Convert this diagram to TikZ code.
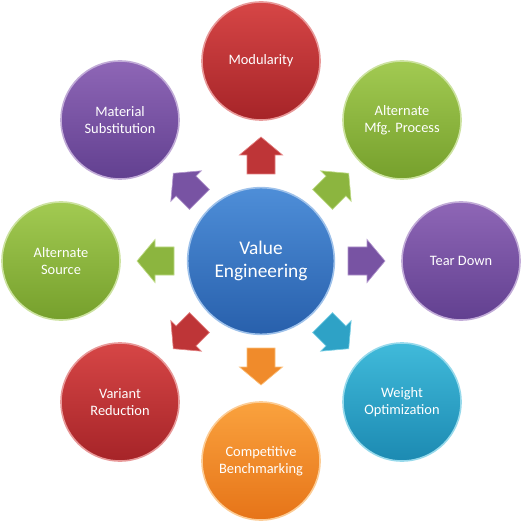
\documentclass[tikz,border=0pt]{standalone}
\usepackage{fontspec}
\setmainfont{Carlito}

\definecolor{veredlight}{RGB}{214,70,70}
\definecolor{vereddark}{RGB}{166,36,40}
\definecolor{vegreenlight}{RGB}{162,202,82}
\definecolor{vegreendark}{RGB}{118,160,44}
\definecolor{vepurplelight}{RGB}{142,102,182}
\definecolor{vepurpledark}{RGB}{98,64,144}
\definecolor{vetealight}{RGB}{64,186,218}
\definecolor{veteadark}{RGB}{28,138,178}
\definecolor{veorangelight}{RGB}{250,162,62}
\definecolor{veorangedark}{RGB}{230,116,24}
\definecolor{vebluelight}{RGB}{78,142,216}
\definecolor{vebluedark}{RGB}{40,96,172}

\tikzset{every picture/.style={line width=0.75pt}}
\tikzset{
  bubble/.style={circle, inner sep=0pt, minimum size=88.5pt, align=center,
    text=white, font=\fontsize{10.8}{12.5}\selectfont,
    top color=#1light, bottom color=#1dark, draw=#1light!55!white, line width=1.2pt},
  hub/.style={bubble=#1, minimum size=110pt, font=\fontsize{14.5}{17}\selectfont},
  arrowbox/.style={fill=#1light!50!#1dark, draw=#1light!70!white, line width=0.5pt, line join=miter}
}

\begin{document}
\begin{tikzpicture}[x=0.75pt,y=0.75pt,yscale=-1,xscale=1]
\useasboundingbox (0,0) rectangle (522,523);

%Shape: Circle [centre]
\node [hub=veblue] (ve) at (261,261) {Value\\Engineering};

%Shape: Circle [outer ring]
\node [bubble=vered] (mod) at (261,61) {Modularity};
\node [bubble=vegreen] (mfg) at (402,120) {Alternate\\Mfg. Process};
\node [bubble=vepurple] (tear) at (461,261) {Tear Down};
\node [bubble=vetea] (weight) at (402,402) {Weight\\Optimization};
\node [bubble=veorange] (bench) at (261,461) {Competitive\\Benchmarking};
\node [bubble=vered] (variant) at (120,402) {Variant\\Reduction};
\node [bubble=vegreen] (source) at (61,261) {Alternate\\Source};
\node [bubble=vepurple] (material) at (120,120) {Material\\Substitution};

%Block Arrows
\draw [arrowbox=vered, shift={(ve.center)}, rotate = 270] (87,-14) -- (106,-14) -- (106,-21.5) -- (124,0) -- (106,21.5) -- (106,14) -- (87,14) -- cycle ;
\draw [arrowbox=vegreen, shift={(ve.center)}, rotate = 315] (87,-14) -- (106,-14) -- (106,-21.5) -- (124,0) -- (106,21.5) -- (106,14) -- (87,14) -- cycle ;
\draw [arrowbox=vepurple, shift={(ve.center)}, rotate = 0] (87,-14) -- (106,-14) -- (106,-21.5) -- (124,0) -- (106,21.5) -- (106,14) -- (87,14) -- cycle ;
\draw [arrowbox=vetea, shift={(ve.center)}, rotate = 45] (87,-14) -- (106,-14) -- (106,-21.5) -- (124,0) -- (106,21.5) -- (106,14) -- (87,14) -- cycle ;
\draw [arrowbox=veorange, shift={(ve.center)}, rotate = 90] (87,-14) -- (106,-14) -- (106,-21.5) -- (124,0) -- (106,21.5) -- (106,14) -- (87,14) -- cycle ;
\draw [arrowbox=vered, shift={(ve.center)}, rotate = 135] (87,-14) -- (106,-14) -- (106,-21.5) -- (124,0) -- (106,21.5) -- (106,14) -- (87,14) -- cycle ;
\draw [arrowbox=vegreen, shift={(ve.center)}, rotate = 180] (87,-14) -- (106,-14) -- (106,-21.5) -- (124,0) -- (106,21.5) -- (106,14) -- (87,14) -- cycle ;
\draw [arrowbox=vepurple, shift={(ve.center)}, rotate = 225] (87,-14) -- (106,-14) -- (106,-21.5) -- (124,0) -- (106,21.5) -- (106,14) -- (87,14) -- cycle ;

\end{tikzpicture}
\end{document}
